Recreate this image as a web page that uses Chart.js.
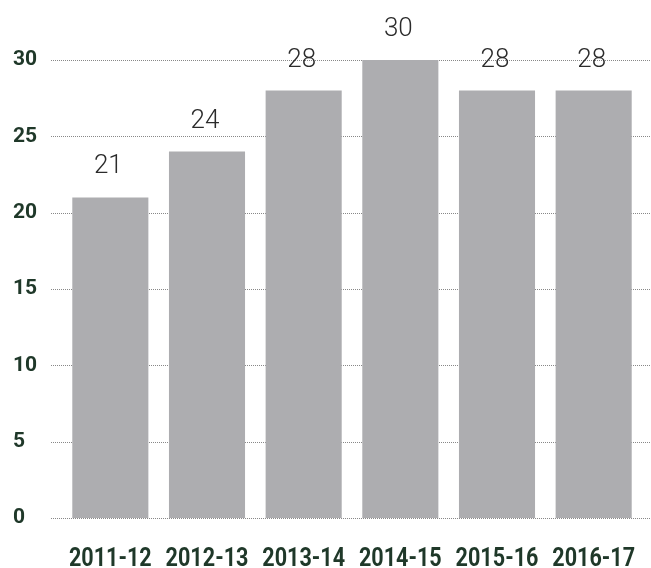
<!DOCTYPE html>
<html>
<head>
<meta charset="utf-8">
<script src="https://cdn.jsdelivr.net/npm/chart.js@4.4.1/dist/chart.umd.min.js"></script>
<style>
    html, body { margin: 0; padding: 0; background: #fff; }
    #wrap { width: 651px; height: 568px; }
</style>
</head>
<body>
<div id="wrap"><canvas id="bars"></canvas></div>
<script>
const seasons = ["2011-12", "2012-13", "2013-14", "2014-15", "2015-16", "2016-17"];
const counts = [21, 24, 28, 30, 28, 28];
const yTicks = [0, 5, 10, 15, 20, 25, 30];

const green = "#1f3829";

// dotted grid lines that run past the plot area on both sides
const dottedGrid = {
    id: "dottedGrid",
    beforeDatasetsDraw(chart) {
        const ctx = chart.ctx;
        const y = chart.scales.y;
        ctx.save();
        ctx.strokeStyle = "#888";
        ctx.lineWidth = 1;
        ctx.setLineDash([1, 1]);
        yTicks.forEach(v => {
            const py = Math.round(y.getPixelForValue(v)) + 0.5;
            ctx.beginPath();
            ctx.moveTo(chart.chartArea.left - 11, py);
            ctx.lineTo(chart.width, py);
            ctx.stroke();
        });
        ctx.restore();
    }
};

// numbers above the bars
const valueLabels = {
    id: "valueLabels",
    afterDatasetsDraw(chart) {
        const ctx = chart.ctx;
        const meta = chart.getDatasetMeta(0);
        ctx.save();
        ctx.font = "300 26px Roboto, sans-serif";
        ctx.fillStyle = "#2b2b2b";
        ctx.textAlign = "center";
        ctx.textBaseline = "alphabetic";
        meta.data.forEach((bar, i) => {
            ctx.fillText(String(counts[i]), bar.x - 2, bar.y - 24);
        });
        ctx.restore();
    }
};

// season labels, squeezed sideways like the condensed face in the original
const seasonLabels = {
    id: "seasonLabels",
    afterDraw(chart) {
        const ctx = chart.ctx;
        const x = chart.scales.x;
        ctx.save();
        ctx.font = "bold 26px Roboto, sans-serif";
        ctx.fillStyle = green;
        ctx.textAlign = "center";
        ctx.textBaseline = "alphabetic";
        seasons.forEach((s, i) => {
            const px = x.getPixelForTick(i);
            ctx.save();
            ctx.translate(px, 566);
            ctx.scale(0.83, 1);
            ctx.fillText(s, 0, 0);
            ctx.restore();
        });
        ctx.restore();
    }
};

new Chart(document.getElementById("bars"), {
    type: "bar",
    data: {
        labels: seasons,
        datasets: [{ data: counts, backgroundColor: "#adadb0", borderWidth: 0, barPercentage: 0.787, categoryPercentage: 1 }]
    },
    options: {
        responsive: true,
        maintainAspectRatio: false,
        animation: false,
        layout: { padding: { left: 13, right: 9, top: 60, bottom: 0 } },
        plugins: { legend: { display: false }, tooltip: { enabled: false } },
        scales: {
            x: {
                grid: { display: false, drawTicks: false },
                border: { display: false },
                ticks: { display: false },
                afterFit: s => { s.height = 50; }
            },
            y: {
                min: 0,
                max: 30,
                grid: { display: false, drawTicks: false },
                border: { display: false },
                ticks: {
                    stepSize: 5,
                    crossAlign: "far",
                    color: green,
                    font: { family: "Roboto, sans-serif", weight: "bold", size: 21 }
                },
                afterFit: s => { s.width = 49; }
            }
        }
    },
    plugins: [dottedGrid, valueLabels, seasonLabels]
});
</script>
</body>
</html>
